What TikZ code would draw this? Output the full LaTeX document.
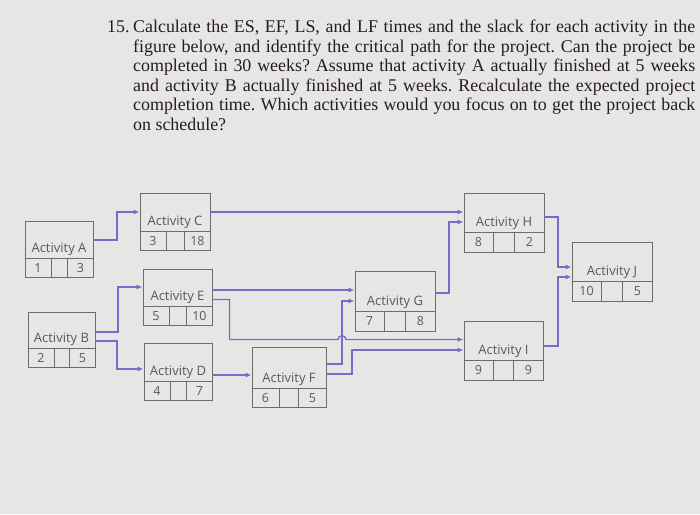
\documentclass[tikz,border=0pt]{standalone}
\usepackage{fontspec}
\setmainfont{Liberation Serif}
\newfontfamily\boxfont{Open Sans}
\usetikzlibrary{arrows.meta,fit}
\definecolor{bg}{RGB}{232,230,229}
\definecolor{boxc}{RGB}{110,108,108}
\definecolor{txtc}{RGB}{88,88,92}
\definecolor{linkc}{RGB}{112,112,200}
\definecolor{qtext}{RGB}{35,30,30}
\tikzset{
  abox/.style={draw=boxc, line width=0.9pt, inner sep=0pt, rectangle},
  cellline/.style={draw=boxc, line width=0.9pt},
  acttext/.style={font=\boxfont\fontsize{13}{15}\selectfont, text=txtc, inner sep=0pt},
  numtext/.style={font=\boxfont\fontsize{12.5}{14}\selectfont, text=txtc, inner sep=0pt},
  conn/.style={draw=linkc, line width=1.4pt, -{Latex[length=6pt,width=5pt]}},
  qstyle/.style={font=\fontsize{17.9}{19.5}\selectfont\frenchspacing, text=qtext, inner sep=0pt}
}
\newcommand\actbox[8]{%
  \node[abox, fit={(#2,#3) (#4,#5)}] (#1) {};
  \draw[cellline] ([yshift={\cellh*1pt}]#1.south west) -- ([yshift={\cellh*1pt}]#1.south east);
  \draw[cellline] ([xshift={\cwl*1pt}]#1.south west) -- ([xshift={\cwl*1pt},yshift={\cellh*1pt}]#1.south west);
  \draw[cellline] ([xshift={-\cwr*1pt}]#1.south east) -- ([xshift={-\cwr*1pt},yshift={\cellh*1pt}]#1.south east);
  \node[acttext] (#1-lbl) at ([yshift={(\cellh+9.5)*1pt}]#1.south) {#6};
  \node[numtext] (#1-es) at ([xshift={0.5*\cwl*1pt},yshift={0.5*\cellh*1pt}]#1.south west) {#7};
  \node[numtext] (#1-ef) at ([xshift={-0.5*\cwr*1pt},yshift={0.5*\cellh*1pt}]#1.south east) {#8};
}
\begin{document}
\begin{tikzpicture}[x=1pt,y=-1pt]
\fill[bg] (0,0) rectangle (700,514);
\useasboundingbox (0,0) rectangle (700,514);

% question text
\node[qstyle, anchor=north west] (qnum) at (107,19) {\strut 15.};
\node[qstyle, anchor=north west, text width=562pt, align=justify] (q) at (133,19) {\strut Calculate the ES, EF, LS, and LF times and the slack for each activity in the\linebreak
figure below, and identify the critical path for the project. Can the project be\linebreak
completed in 30 weeks? Assume that activity A actually finished at 5 weeks\linebreak
and activity B actually finished at 5 weeks. Recalculate the expected project\linebreak
completion time. Which activities would you focus on to get the project back\linebreak
on schedule?};

% boxes
\def\cellh{19}\def\cwl{27}\def\cwr{26}
\actbox{A}{25}{221}{93}{277}{Activity A}{1}{3}
\actbox{C}{140}{193}{210}{250}{Activity C}{3}{18}
\actbox{E}{143}{269}{212}{325}{Activity E}{5}{10}
\actbox{B}{28}{312}{95}{367}{Activity B}{2}{5}
\actbox{D}{144}{343}{212}{400}{Activity D}{4}{7}
\def\cellh{19}\def\cwl{28}\def\cwr{28}
\actbox{F}{252}{347}{326}{407}{Activity F}{6}{5}
\def\cellh{20}\def\cwl{30}\def\cwr{30}
\actbox{H}{464}{193}{544}{252}{Activity H}{8}{2}
\actbox{G}{355}{271}{435}{331}{Activity G}{7}{8}
\actbox{J}{572}{242}{652}{301}{Activity J}{10}{5}
\actbox{I}{464}{321}{543}{380}{Activity I}{9}{9}

% connectors
\draw[conn] (A.east |- 0,240) -- (117,240) -- (117,212) -- (C.west |- 0,212);
\draw[conn] (C.east |- 0,212) -- (H.west |- 0,212);
\draw[conn] (B.east |- 0,332) -- (118,332) -- (118,287) -- (E.west |- 0,287);
\draw[conn] (B.east |- 0,341) -- (117,341) -- (117,369) -- (D.west |- 0,369);
\draw[conn] (D.east |- 0,375) -- (F.west |- 0,375);
\draw[conn] (E.east |- 0,290) -- (G.west |- 0,290);
\draw[conn] (E.east |- 0,299.5) -- (229.5,299.5) -- (229.5,339.5) -- (338,339.5)
  .. controls (338,334.5) and (346,334.5) .. (346,339.5) -- (I.west |- 0,339.5);
\draw[conn] (F.east |- 0,364) -- (342,364) -- (342,301) -- (G.west |- 0,301);
\draw[conn] (F.east |- 0,374) -- (352,374) -- (352,350) -- (I.west |- 0,350);
\draw[conn] (G.east |- 0,293) -- (449,293) -- (449,222) -- (H.west |- 0,222);
\draw[conn] (H.east |- 0,217) -- (558,217) -- (558,267) -- (J.west |- 0,267);
\draw[conn] (I.east |- 0,346) -- (558,346) -- (558,277) -- (J.west |- 0,277);
\end{tikzpicture}
\end{document}
